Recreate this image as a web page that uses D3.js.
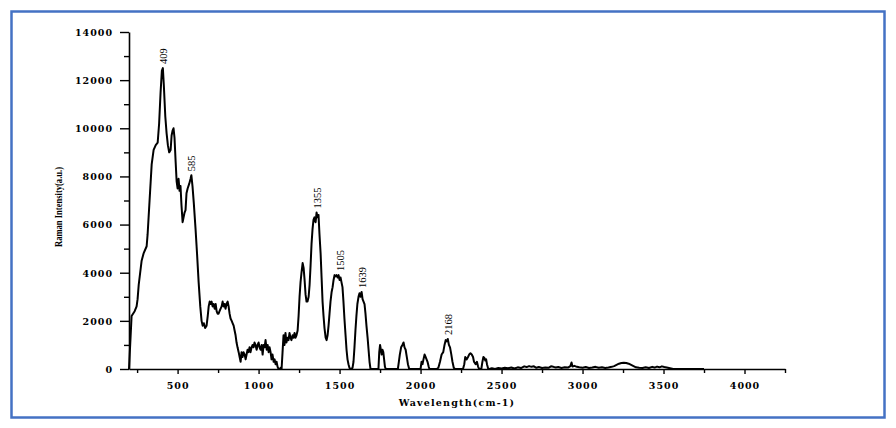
<!DOCTYPE html>
<html>
<head>
<meta charset="utf-8">
<script src="https://cdn.jsdelivr.net/npm/d3@7"></script>
<style>
  html, body { margin: 0; padding: 0; background: #fff; }
  svg { display: block; }
</style>
</head>
<body>
<svg id="chart" width="896" height="428"></svg>
<script>
// ---- data ----
const wavenumber = [
  200,216,235,247,253,260,278,290,309,315,327,340,352,365,377,386,395,403,409,415,424,432,440,448,457,463,469,475,481,488,494,500,506,512,518,524,531,537,543,549,555,562,572,580,585,592,600,611,620,630,640,648,655,662,670,679,686,692,698,704,710,716,722,729,735,741,747,753,759,765,772,778,784,790,796,802,809,815,821,827,834,840,846,852,858,864,870,877,883,889,895,901,907,914,920,926,932,938,944,950,957,963,969,975,981,988,994,1000,1006,1012,1019,1025,1031,1037,1043,1050,1056,1062,1068,1074,1080,1086,1093,1099,1105,1111,1117,1123,1130,1136,1142,1148,1154,1160,1166,1172,1179,1185,1191,1197,1203,1210,1216,1222,1228,1234,1241,1247,1253,1259,1265,1272,1278,1284,1290,1296,1302,1309,1315,1321,1327,1333,1339,1345,1352,1358,1364,1370,1376,1383,1389,1395,1401,1407,1414,1420,1426,1432,1438,1444,1451,1457,1463,1469,1475,1481,1488,1494,1500,1506,1512,1518,1524,1530,1537,1543,1549,1555,1561,1567,1573,1580,1586,1592,1598,1604,1610,1617,1623,1629,1636,1642,1648,1654,1660,1666,1673,1679,1685,1691,1700,1740,1745,1750,1755,1760,1765,1770,1775,1780,1785,1860,1866,1872,1880,1888,1895,1901,1908,1915,1922,1930,2000,2006,2012,2018,2025,2031,2037,2043,2050,2055,2100,2110,2120,2130,2140,2148,2155,2162,2168,2175,2182,2190,2197,2205,2212,2262,2270,2276,2285,2293,2300,2308,2316,2324,2330,2340,2348,2355,2362,2375,2382,2388,2395,2400,2405,2410,2418,2425,2440,2460,2480,2500,2520,2540,2560,2580,2600,2620,2640,2655,2670,2685,2700,2715,2730,2750,2770,2790,2805,2820,2835,2850,2870,2890,2910,2925,2932,2938,2950,2965,2980,3000,3020,3040,3060,3080,3100,3120,3140,3160,3180,3195,3210,3225,3240,3255,3270,3285,3300,3315,3330,3350,3370,3390,3410,3430,3445,3460,3475,3490,3505,3520,3540,3560,3750
];
const intensity = [
  0,2200,2400,2600,2900,3500,4500,4800,5100,5600,7000,8500,9100,9300,9400,10200,11500,12400,12500,11800,10500,9800,9300,9000,9100,9700,9900,10000,9600,8600,7800,7500,7900,7400,7600,6800,6100,6300,6500,6600,7300,7500,7700,7900,8050,7600,6900,5800,4800,3600,2600,2000,1800,1900,1700,1800,2200,2600,2800,2700,2800,2600,2700,2500,2700,2400,2300,2300,2400,2500,2600,2800,2600,2700,2500,2700,2800,2600,2300,2100,2000,1900,1800,1600,1400,1100,900,700,500,300,700,500,700,600,400,600,800,700,900,700,900,1000,900,1100,1000,800,1000,1100,900,800,1000,600,1000,900,1200,800,1000,700,900,700,400,600,300,400,200,300,100,0,0,50,0,700,1400,1000,1500,1100,1300,1200,1500,1300,1200,1400,1300,1500,1300,1400,1600,2200,3000,3600,4000,4400,4200,3700,3100,2800,2800,3000,3500,4300,5200,5800,6200,6300,6100,6500,6300,6400,5600,4800,3800,2800,2200,1700,1300,1200,1400,1800,2300,2800,3200,3400,3700,3900,3850,3900,3800,3900,3700,3800,3600,3400,2800,2100,1400,800,400,200,50,0,0,50,300,900,1600,2200,2700,3000,3150,3000,3200,2900,2800,2700,2300,1800,1300,800,300,0,0,0,700,1000,800,600,800,700,400,100,0,0,300,600,900,1000,1100,900,800,500,200,0,0,300,200,400,600,500,400,300,100,0,0,50,300,600,700,1000,1200,1150,1250,1000,900,600,300,50,0,0,200,500,400,500,600,650,600,500,300,200,300,100,0,0,300,500,450,350,400,200,0,0,30,0,40,20,50,30,60,20,70,40,110,80,120,90,110,50,80,40,60,50,110,90,60,80,40,70,60,120,270,100,130,90,70,50,80,40,60,90,50,70,40,60,90,120,170,220,250,260,250,220,170,120,70,50,40,70,40,90,60,100,70,110,80,60,30,0,0
];
const peakLabels = ["409", "585", "1355", "1505", "1639", "2168"];
const peakWavenumber = [409, 585, 1358, 1500, 1636, 2168];
const peakIntensity = [12500, 8050, 6500, 3900, 3200, 1250];
const xTickValues = [500, 1000, 1500, 2000, 2500, 3000, 3500, 4000];
const xMinorTickValues = [250, 750, 1250, 1750, 2250, 2750, 3250, 3750, 4250];
const yTickValues = [0, 2000, 4000, 6000, 8000, 10000, 12000, 14000];
const yMinorTickValues = [1000, 3000, 5000, 7000, 9000, 11000, 13000];
const xTitle = "Wavelength(cm-1)";
const yTitle = "Raman Intensity(a.u.)";

// ---- drawing ----
const svg = d3.select("#chart");
const x = d3.scaleLinear().domain([200, 4250]).range([129, 785]);
const y = d3.scaleLinear().domain([0, 14000]).range([369, 32]);

// frame
svg.append("rect")
  .attr("x", 11.5).attr("y", 11.5).attr("width", 873).attr("height", 406)
  .attr("fill", "none").attr("stroke", "#4472C4").attr("stroke-width", 2.5);

const tickFont = "'DejaVu Serif', serif";

// x axis
const gx = svg.append("g").attr("transform", "translate(0,369)");
gx.call(d3.axisBottom(x).tickValues(xTickValues).tickSize(5).tickPadding(8).tickSizeOuter(0).tickFormat(d3.format("d")));
gx.append("g").call(d3.axisBottom(x).tickValues(xMinorTickValues).tickSize(4).tickSizeOuter(0).tickFormat(""))
  .select(".domain").remove();
// y axis
const gy = svg.append("g").attr("transform", "translate(129,0)");
gy.call(d3.axisLeft(y).tickValues(yTickValues).tickSize(9).tickPadding(7).tickSizeOuter(0).tickFormat(d3.format("d")));
gy.append("g").call(d3.axisLeft(y).tickValues(yMinorTickValues).tickSize(5).tickSizeOuter(0).tickFormat(""))
  .select(".domain").remove();

svg.selectAll(".domain").attr("stroke", "#000").attr("stroke-width", 1.6);
svg.selectAll(".tick line").attr("stroke", "#000").attr("stroke-width", 1.4);
svg.selectAll(".tick text")
  .attr("fill", "#000")
  .style("font-family", tickFont)
  .style("font-weight", "bold")
  .style("font-size", "9.5px")
  .style("letter-spacing", "1px");
gy.selectAll(".tick text").attr("dy", "0.36em");

// curve
const pts = wavenumber.map((w, i) => [w, intensity[i]]);
const line = d3.line().x(d => x(d[0])).y(d => y(d[1]));
svg.append("path")
  .datum(pts)
  .attr("d", line)
  .attr("fill", "none")
  .attr("stroke", "#000")
  .attr("stroke-width", 2)
  .attr("stroke-linejoin", "round");

// peak labels
svg.selectAll(".peak")
  .data(peakLabels)
  .enter().append("text")
  .attr("class", "peak")
  .attr("transform", (d, i) => `translate(${x(peakWavenumber[i]) + 4},${y(peakIntensity[i]) - 4}) rotate(-90)`)
  .attr("text-anchor", "start")
  .style("font-family", "'Liberation Serif', serif")
  .style("font-size", "10.5px")
  .attr("fill", "#000")
  .text(d => d);

// axis titles
svg.append("text")
  .attr("x", 457).attr("y", 406)
  .attr("text-anchor", "middle")
  .style("font-family", tickFont)
  .style("font-weight", "bold")
  .style("font-size", "9.5px")
  .style("letter-spacing", "1.2px")
  .attr("fill", "#000")
  .text(xTitle);

svg.append("text")
  .attr("transform", "translate(62,207) rotate(-90)")
  .attr("text-anchor", "middle")
  .attr("textLength", 80)
  .attr("lengthAdjust", "spacingAndGlyphs")
  .style("font-family", "'Liberation Serif', serif")
  .style("font-weight", "bold")
  .style("font-size", "11px")
  .attr("fill", "#000")
  .text(yTitle);
</script>
</body>
</html>
